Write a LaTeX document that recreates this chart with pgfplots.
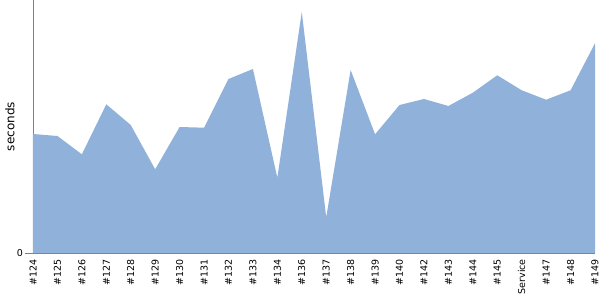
\documentclass[border=0pt]{standalone}
\usepackage{pgfplots}
\pgfplotsset{compat=1.18}
\usepackage{fontspec}
\setmainfont{DejaVu Sans}
\definecolor{areafill}{RGB}{143,177,218}
\definecolor{axgray}{RGB}{128,128,128}
\begin{document}
\begin{tikzpicture}
\path[use as bounding box] (-33pt,-47pt) rectangle (567pt,253pt);
\begin{axis}[
  at={(0pt,0pt)}, anchor=origin,
  scale only axis, width=562pt, height=253pt,
  xmin=0, xmax=23, ymin=0, ymax=253,
  axis lines*=left,
  axis line style={axgray, line width=0.8pt, -},
  tick align=outside,
  major tick length=8pt,
  xtick style={draw=none},
  ytick style={axgray, line width=0.8pt},
  ytick={0},
  xtick={0,...,23},
  xticklabels={\#124,\#125,\#126,\#127,\#128,\#129,\#130,\#131,\#132,\#133,\#134,\#136,\#137,\#138,\#139,\#140,\#142,\#143,\#144,\#145,Service,\#147,\#148,\#149},
  x tick label style={rotate=90, anchor=east, font=\fontsize{9.5}{11}\selectfont, inner sep=0pt},
  xticklabel shift=-2pt,
  y tick label style={font=\fontsize{9.5}{11}\selectfont, inner sep=0pt},
  yticklabel shift=2pt,
  /pgf/number format/assume math mode=true,
  ylabel={seconds},
  ylabel style={font=\fontsize{12}{14}\selectfont, at={(axis description cs:0,0.5)}, anchor=center, yshift=23pt},
  clip=false,
]
\addplot[fill=areafill, draw=none] coordinates {
(0,119) (1,117) (2,98.7) (3,148.7) (4,128) (5,83.7) (6,126) (7,125.3)
(8,174) (9,184) (10,75.3) (11,241) (12,35.7) (13,183) (14,118.7) (15,148)
(16,154) (17,147) (18,160.3) (19,177.7) (20,162.7) (21,153.3) (22,162.7) (23,209.7)
} \closedcycle;
\end{axis}
\end{tikzpicture}
\end{document}
